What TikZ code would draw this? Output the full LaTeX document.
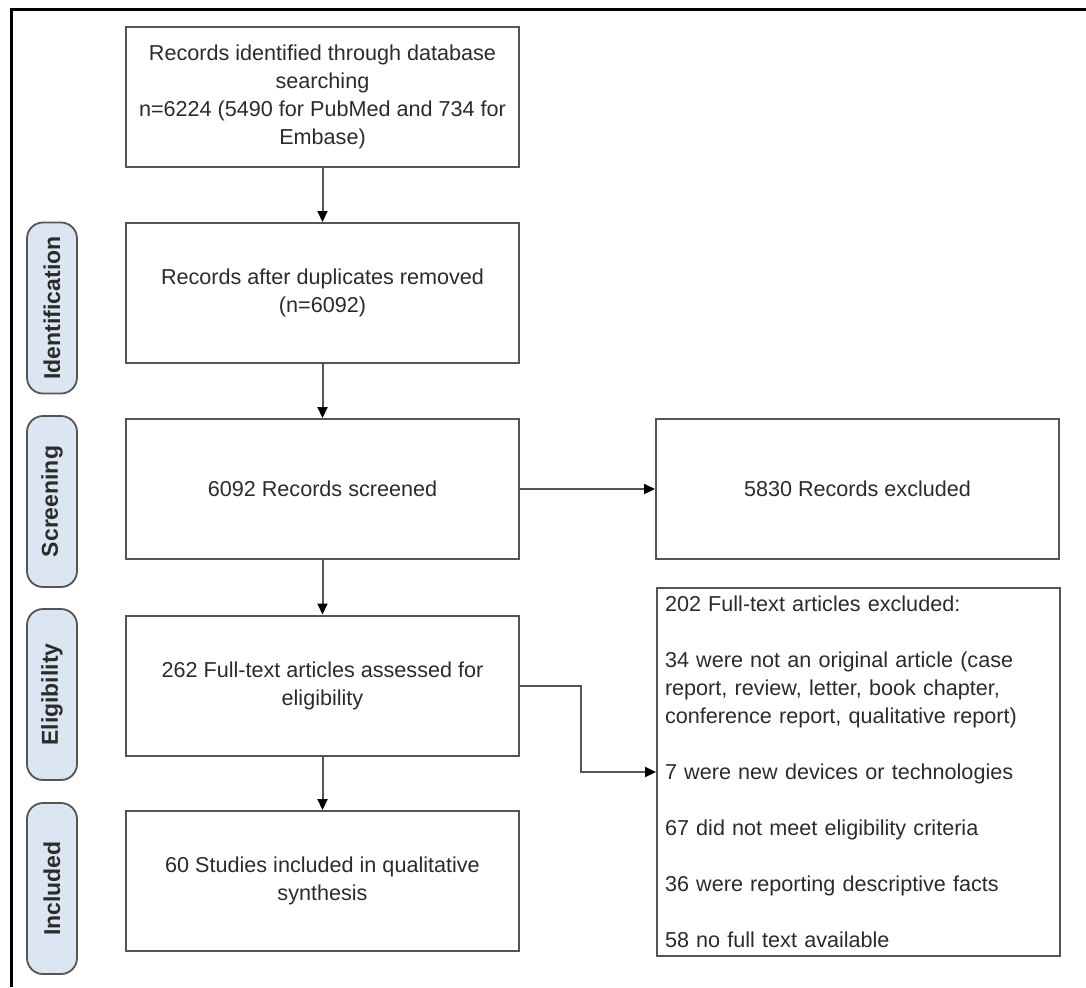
\documentclass[tikz,border=0pt]{standalone}
\usepackage{fontspec}
\setmainfont{Liberation Sans}
\usetikzlibrary{arrows.meta}

\definecolor{boxline}{HTML}{555555}
\definecolor{boxtext}{HTML}{2B2B2B}
\definecolor{phasefill}{HTML}{DCE6F2}

\begin{document}
\begin{tikzpicture}[x=0.5pt,y=-0.5pt,
    box/.style={draw=boxline, line width=1pt, minimum width=196.5pt, minimum height=70pt,
        align=center, inner sep=3pt, text=boxtext, font=\fontsize{10.8}{14}\selectfont},
    phase/.style={draw=boxline, fill=phasefill, line width=0.9pt, rounded corners=8pt,
        rotate=90, minimum width=85.5pt, minimum height=25pt, inner sep=0pt,
        text=boxtext, font=\fontsize{11.5}{14}\selectfont\bfseries},
    arr/.style={draw=boxline, line width=1pt, -{Triangle[length=5.5pt,width=5pt,color=black]}}]

    \useasboundingbox (0,0) rectangle (1086,987);

    % Frame
    \draw[line width=1.5pt] (11,987) -- (11,9) -- (1086,9);

    % Phases
    \foreach \y/\name/\lbl in {308/pIdent/Identification, 501.5/pScreen/Screening,
        694.5/pElig/Eligibility, 888.5/pIncl/Included}
    {
        \node[phase] (\name) at (52,\y) {\lbl};
    }

    % Main column
    \node[box] (ident) at (322.5,97) {Records identified through database\\ searching\\
        n=6224 (5490 for PubMed and 734 for\\ Embase)};
    \node[box] (dupl) at (322.5,293) {Records after duplicates removed\\ (n=6092)};
    \node[box] (screen) at (322.5,489) {6092 Records screened};
    \node[box] (elig) at (322.5,685.5) {262 Full-text articles assessed for\\ eligibility};
    \node[box] (incl) at (322.5,881) {60 Studies included in qualitative\\ synthesis};

    % Exclusions
    \node[box, minimum width=201.5pt] (exclA) at (857.5,489) {5830 Records excluded};
    \node[box, minimum width=201.5pt, minimum height=184pt, anchor=north west,
        align=left, inner xsep=4pt, inner ysep=3pt, text width=193.5pt] (exclB) at (656,587)
        {202 Full-text articles excluded:\\[14pt]
        34 were not an original article (case\\ report, review, letter, book chapter,\\
        conference report, qualitative report)\\[14pt]
        7 were new devices or technologies\\[14pt]
        67 did not meet eligibility criteria\\[14pt]
        36 were reporting descriptive facts\\[14pt]
        58 no full text available};

    % Arrows
    \foreach \a/\b in {ident/dupl, dupl/screen, screen/elig, elig/incl}
    {
        \draw[arr] (\a) -- (\b);
    }
    \draw[arr] (screen) -- (exclA);
    \draw[arr] (elig.east) -| ([xshift=-37.5pt]exclB.west) -- (exclB.west);
\end{tikzpicture}
\end{document}
